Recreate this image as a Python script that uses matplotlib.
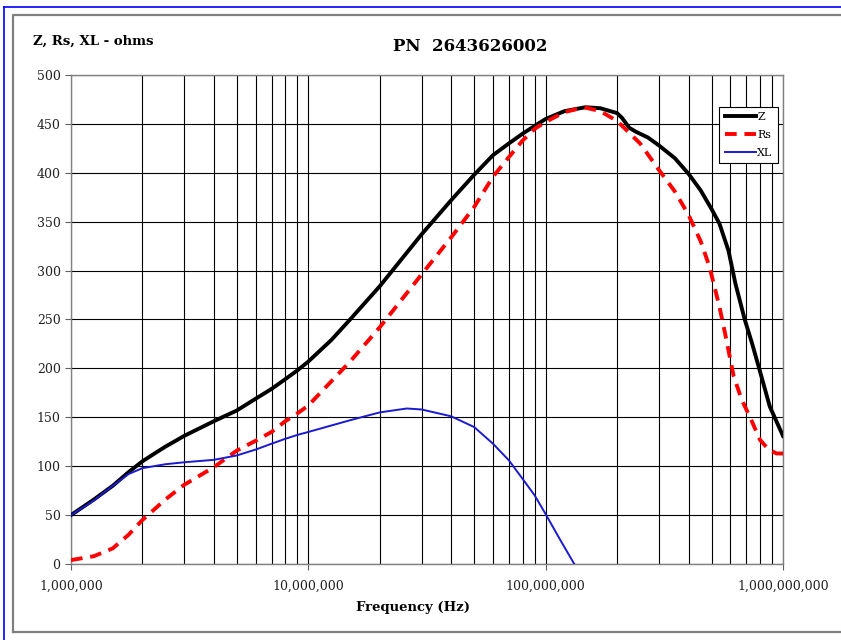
import matplotlib
matplotlib.use("Agg")
import matplotlib.pyplot as plt
from matplotlib.lines import Line2D
from matplotlib.ticker import FixedLocator, FuncFormatter, LogLocator, NullFormatter

plt.rcParams['font.family'] = ['DejaVu Serif']

# Z - impedenza totale
freq_z = [1e6, 1.25e6, 1.5e6, 1.75e6, 2e6, 2.25e6, 2.5e6, 3e6, 4e6, 5e6, 6e6,
          7e6, 8e6, 9e6, 1e7, 1.25e7, 1.5e7, 2e7, 3e7, 4e7, 5e7, 6e7, 7e7,
          8e7, 9e7, 1e8, 1.2e8, 1.47e8, 1.7e8, 2e8, 2.1e8, 2.25e8, 2.4e8,
          2.7e8, 3e8, 3.5e8, 4e8, 4.5e8, 5e8, 5.4e8, 5.9e8, 6.3e8, 6.9e8,
          7.4e8, 8e8, 8.8e8, 1e9]
z_vals = [50, 66, 80, 94, 105, 113, 120, 131, 146, 157, 169,
          179, 189, 198, 207, 229, 250, 284, 337, 372, 398, 418, 430,
          440, 448, 455, 463, 467, 466, 461, 456, 446, 442,
          436, 428, 415, 399, 382, 363, 348, 320, 287, 250,
          226, 197, 161, 131]

# Rs - parte resistiva
freq_rs = [1e6, 1.25e6, 1.5e6, 1.75e6, 2e6, 2.5e6, 3e6, 4e6, 4.5e6, 5e6, 6e6,
           7e6, 8e6, 9e6, 1e7, 1.5e7, 2e7, 3e7, 4e7, 5e7, 6e7, 7e7, 8e7,
           9e7, 1e8, 1.2e8, 1.45e8, 1.7e8, 2e8, 2.5e8, 3e8, 3.5e8, 4e8,
           4.5e8, 4.9e8, 5.4e8, 5.7e8, 6e8, 6.2e8, 6.7e8, 7.3e8, 8e8, 8.7e8,
           9.4e8, 1e9]
rs_vals = [4, 8, 16, 30, 45, 66, 81, 99, 108, 116, 126,
           135, 146, 154, 162, 207, 242, 296, 334, 365, 396, 416, 433,
           445, 452, 462, 467, 463, 453, 430, 403, 381, 357,
           330, 304, 263, 236, 209, 192, 168, 149, 127, 117,
           113, 113]

# XL - parte reattiva
freq_xl = [1e6, 1.25e6, 1.5e6, 1.75e6, 2e6, 2.5e6, 3e6, 4e6, 5e6, 6e6, 7e6,
           8e6, 9e6, 1e7, 1.5e7, 2e7, 2.6e7, 3e7, 4e7, 5e7, 6e7, 7e7, 8e7,
           9e7, 1e8, 1.15e8, 1.32e8]
xl_vals = [50, 65, 80, 92, 98, 102, 104, 106.5, 111, 117, 123,
           128, 132, 135, 147, 155, 159, 158, 151, 140, 123, 106, 87,
           70, 51, 25, 0]

x_ticks = [1e6, 1e7, 1e8, 1e9]
y_ticks = list(range(0, 501, 50))

fig = plt.figure(figsize=(8.41, 6.4), dpi=100)

# cornice esterna blu e riquadro grigio
fig.add_artist(Line2D([0.0048, 0.0048], [-0.1, 0.9898], transform=fig.transFigure,
                      color='#0000ff', lw=1.2))
fig.add_artist(Line2D([0.0048, 1.1], [0.9898, 0.9898], transform=fig.transFigure,
                      color='#0000ff', lw=1.2))
fig.add_artist(Line2D([0.016, 0.016, 1.1], [0.013, 0.9758, 0.9758],
                      transform=fig.transFigure, color='#808080', lw=1.6))
fig.add_artist(Line2D([0.016, 1.1], [0.013, 0.013],
                      transform=fig.transFigure, color='#808080', lw=1.6))

ax = fig.add_axes([0.0844, 0.11875, 0.8466, 0.7641])

ax.plot(freq_z, z_vals, color='black', lw=2.8, label='Z', zorder=3)
ax.plot(freq_rs, rs_vals, color='#ff0000', lw=2.8, ls=(0, (3, 2)), label='Rs', zorder=4)
ax.plot(freq_xl, xl_vals, color='#1a1ad0', lw=1.4, label='XL', zorder=5)

ax.set_xscale('log')
ax.set_xlim(1e6, 1e9)
ax.set_ylim(0, 500)

ax.xaxis.set_major_locator(FixedLocator(x_ticks))
ax.xaxis.set_minor_locator(LogLocator(base=10, subs=range(2, 10)))
ax.xaxis.set_minor_formatter(NullFormatter())
ax.xaxis.set_major_formatter(FuncFormatter(lambda v, p: f"{int(round(v)):,}"))
ax.set_yticks(y_ticks)

ax.grid(True, which='major', color='black', lw=0.8)
ax.grid(True, which='minor', axis='x', color='black', lw=0.8)
ax.set_axisbelow(True)

ax.tick_params(axis='both', which='major', direction='out', length=4, width=0.8,
               color='#606060', labelsize=9, labelcolor='#222222')
ax.tick_params(axis='x', which='major', pad=7)
ax.tick_params(axis='x', which='minor', length=0)
for s in ax.spines.values():
    s.set_color('#808080')
    s.set_linewidth(1.0)

fig.text(0.039, 0.936, 'Z, Rs, XL - ohms', fontsize=9.5, fontweight='bold',
         ha='left', va='center')
fig.text(0.559, 0.928, 'PN  2643626002', fontsize=12, fontweight='bold',
         ha='center', va='center')
fig.text(0.491, 0.051, 'Frequency (Hz)', fontsize=9.5, fontweight='bold',
         ha='center', va='center')

leg = ax.legend(loc='upper right', bbox_to_anchor=(0.993, 0.935), borderaxespad=0,
                fontsize=8, frameon=True, fancybox=False, handlelength=2.8,
                handletextpad=0.1, labelspacing=0.7, borderpad=0.5)
leg.get_frame().set_edgecolor('black')
leg.get_frame().set_linewidth(0.8)
leg.get_frame().set_alpha(1)

fig.savefig('out.png', dpi=100)
